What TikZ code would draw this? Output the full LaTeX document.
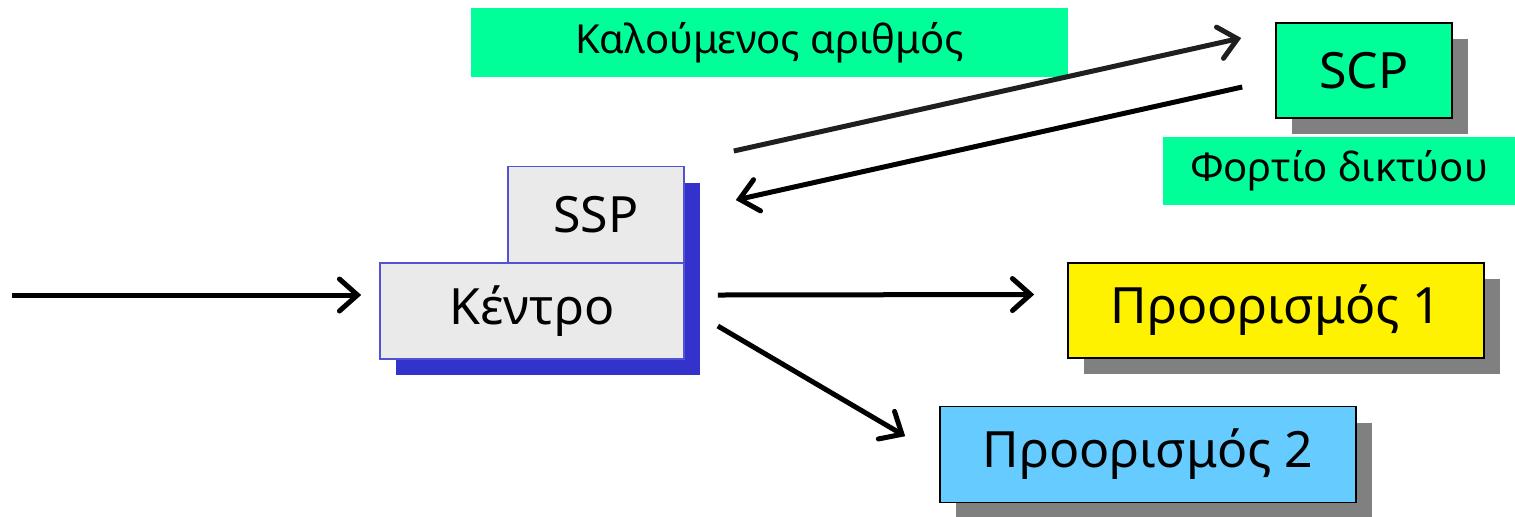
\documentclass[tikz,border=0pt]{standalone}
\usepackage{fontspec}
\setmainfont{Noto Sans}
\usepackage{xcolor}
\usetikzlibrary{arrows.meta,shadows}
\definecolor{mint}{RGB}{0,255,153}
\definecolor{boxgray}{RGB}{234,234,234}
\definecolor{ssblue}{RGB}{51,51,204}
\definecolor{skyblue}{RGB}{102,204,255}
\begin{document}
\begin{tikzpicture}[x=0.5pt,y=-0.5pt]
		\tikzstyle{big}=[font=\fontsize{25}{30}\selectfont]
		\tikzstyle{small}=[font=\fontsize{20}{24}\selectfont]
		\tikzstyle{box}=[draw=black,line width=0.8pt,rectangle,inner sep=0pt,big,
			general shadow={fill=black!50,shadow xshift=8pt,shadow yshift=-8pt}]
		\tikzstyle{sw}=[draw=ssblue!85,line width=0.8pt,fill=boxgray,rectangle,inner sep=0pt,big,
			general shadow={fill=ssblue,shadow xshift=8pt,shadow yshift=-8pt}]
		\tikzstyle{tag}=[fill=mint,rectangle,inner sep=0pt,small]
		\tikzstyle{arr}=[line width=2.5pt,-{Straight Barb[length=9pt,width=16pt,line cap=round]}]
		\useasboundingbox (0,0) rectangle (1515,516);
		% labels
		\node[tag,minimum width=298.5pt,minimum height=34.5pt] (called) at (769.5,42.5) {Καλούμενος αριθμός};
		\node[tag,minimum width=176pt,minimum height=34pt] (load) at (1339,171) {Φορτίο δικτύου};
		% boxes
		\node[box,fill=mint,minimum width=88pt,minimum height=47.5pt] (scp) at (1364,70.5) {SCP};
		\node[sw,minimum width=88pt,minimum height=48.5pt] (ssp) at (596,215) {SSP};
		\node[sw,minimum width=152pt,minimum height=48pt] (kentro) at (532,311) {Κέντρο};
		\node[box,fill=yellow,minimum width=208pt,minimum height=47.5pt] (dest1) at (1276,310.5) {Προορισμός 1};
		\node[box,fill=skyblue,minimum width=208pt,minimum height=48pt] (dest2) at (1148,454.5) {Προορισμός 2};
		\coordinate (src) at (12,295);
		% arrows
		\draw[arr] (src) -- ([xshift=-9pt,yshift=8pt]kentro.west);
		\draw[arr,black!88] ([xshift=24.5pt,yshift=32pt]ssp.east) -- ([xshift=-17pt,yshift=16.25pt]scp.west);
		\draw[arr] ([xshift=-16.5pt,yshift=-8.25pt]scp.west) -- ([xshift=25.5pt,yshift=7.5pt]ssp.east);
		\draw[arr] ([xshift=16.5pt,yshift=8pt]kentro.east) -- ([xshift=-16.5pt,yshift=8pt]dest1.west);
		\draw[arr] ([xshift=16.5pt,yshift=-7.5pt]kentro.east) -- ([xshift=-17pt,yshift=-15.25pt]dest2.north west);
\end{tikzpicture}
\end{document}
